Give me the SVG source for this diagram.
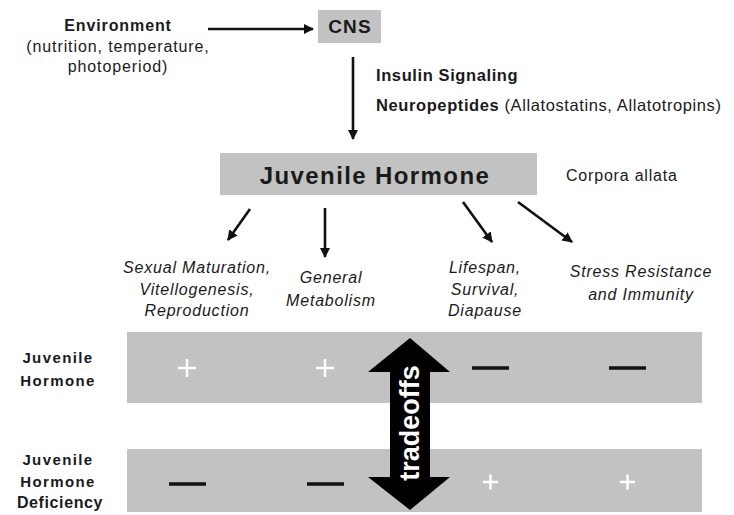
<svg xmlns="http://www.w3.org/2000/svg" width="734" height="515" viewBox="0 0 734 515">
<defs>
<marker id="ah" viewBox="0 0 10 10" refX="9" refY="5" markerWidth="4" markerHeight="4" orient="auto" markerUnits="strokeWidth">
<path d="M0,0 L10,5 L0,10 Z" fill="#111"/>
</marker>
<style>
text{font-family:"Liberation Sans",Arial,sans-serif;fill:#1a1a1a}
.b{font-weight:bold}
.i{font-style:italic;font-size:16px;letter-spacing:0.8px}
.s{font-size:16px;letter-spacing:0.9px}
.rl{font-weight:bold;font-size:15px;letter-spacing:1.4px}
.box{fill:#c2c2c2}
.ln{stroke:#111;stroke-width:2.6;fill:none;marker-end:url(#ah)}
.m{stroke:#111;stroke-width:3.5}
.p{stroke:#fff;stroke-width:2.5}
</style>
</defs>
<rect width="734" height="515" fill="#fff"/>
<g id="env" text-anchor="middle">
<text x="118" y="31" class="b s">Environment</text>
<text x="118" y="52" class="s">(nutrition, temperature,</text>
<text x="118" y="72" class="s">photoperiod)</text>
</g>
<g id="cns">
<rect x="318" y="10" width="63" height="33" class="box"/>
<text x="350" y="33" class="b" font-size="19" letter-spacing="1.2" text-anchor="middle">CNS</text>
</g>
<g id="signals">
<text x="376" y="81" class="b" font-size="16.5" letter-spacing="0.6">Insulin Signaling</text>
<text x="376" y="111" font-size="16.5" letter-spacing="0.6"><tspan class="b">Neuropeptides</tspan> (Allatostatins, Allatotropins)</text>
</g>
<g id="jh">
<rect x="220" y="153" width="317" height="42" class="box"/>
<text x="375" y="184" class="b" font-size="24" letter-spacing="1.4" text-anchor="middle">Juvenile Hormone</text>
</g>
<g id="ca"><text x="566" y="181" class="s" style="letter-spacing:0.8px">Corpora allata</text></g>
<g id="o1" text-anchor="middle">
<text x="197" y="273" class="i">Sexual Maturation,</text>
<text x="197" y="295" class="i">Vitellogenesis,</text>
<text x="197" y="316" class="i">Reproduction</text>
</g>
<g id="o2" text-anchor="middle">
<text x="331" y="283" class="i">General</text>
<text x="331" y="306" class="i">Metabolism</text>
</g>
<g id="o3" text-anchor="middle">
<text x="485" y="273" class="i">Lifespan,</text>
<text x="485" y="295" class="i">Survival,</text>
<text x="485" y="316" class="i">Diapause</text>
</g>
<g id="o4" text-anchor="middle">
<text x="641" y="277" class="i">Stress Resistance</text>
<text x="641" y="300" class="i">and Immunity</text>
</g>
<g id="rowlabels" text-anchor="middle">
<text x="58" y="363" class="rl">Juvenile</text>
<text x="58" y="386" class="rl">Hormone</text>
<text x="58" y="465" class="rl">Juvenile</text>
<text x="58" y="487" class="rl">Hormone</text>
<text x="60" y="508" class="b" font-size="16" letter-spacing="0.6">Deficiency</text>
</g>
<g id="bands">
<rect x="127" y="332" width="575" height="71" class="box"/>
<rect x="127" y="449" width="575" height="63" class="box"/>
<path d="M178,368 h18 M187,359 v18 M316,368 h18 M325,359 v18" class="p"/>
<path d="M472,368 h37 M609,368 h37" class="m"/>
<path d="M169,484 h37 M307,484 h37" class="m"/>
<path d="M483,482 h15 M490.5,474.5 v15 M620,482 h15 M627.5,474.5 v15" class="p"/>
</g>
<g id="tradeoffs">
<path d="M410,338 L450,372 L430,372 L430,477 L450,477 L410,510 L368,477 L390,477 L390,372 L368,372 Z" fill="#000"/>
<text transform="translate(419,423) rotate(-90)" class="b" font-size="27" text-anchor="middle" style="fill:#fff">tradeoffs</text>
</g>
<g id="connectors">
<line x1="208" y1="29" x2="313" y2="29" class="ln"/>
<line x1="353" y1="57" x2="353" y2="139" class="ln"/>
<line x1="250" y1="209" x2="228" y2="240" class="ln"/>
<line x1="325" y1="208" x2="325" y2="257" class="ln"/>
<line x1="463" y1="202" x2="492" y2="242" class="ln"/>
<line x1="518" y1="202" x2="572" y2="242" class="ln"/>
</g>
</svg>
